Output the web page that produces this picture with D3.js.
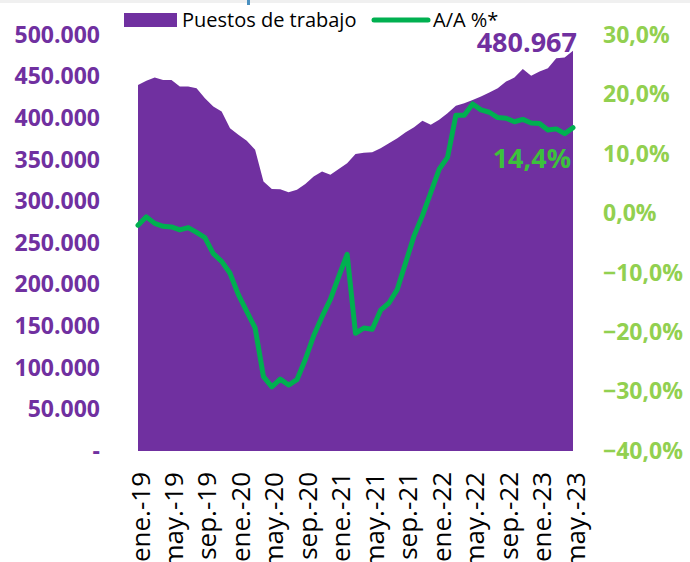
<!DOCTYPE html>
<html>
<head>
<meta charset="utf-8">
<script src="https://cdn.jsdelivr.net/npm/d3@7"></script>
<style>
  html, body { margin: 0; padding: 0; background: #fff; }
  svg { display: block; }
  text { font-family: "Open Sans", "Noto Sans", sans-serif; }
</style>
</head>
<body>
<svg id="chart" width="690" height="562"></svg>
<script>
// ---------- DATA ----------
const months = [
  "ene.-19","feb.-19","mar.-19","abr.-19","may.-19","jun.-19","jul.-19","ago.-19","sep.-19","oct.-19","nov.-19","dic.-19",
  "ene.-20","feb.-20","mar.-20","abr.-20","may.-20","jun.-20","jul.-20","ago.-20","sep.-20","oct.-20","nov.-20","dic.-20",
  "ene.-21","feb.-21","mar.-21","abr.-21","may.-21","jun.-21","jul.-21","ago.-21","sep.-21","oct.-21","nov.-21","dic.-21",
  "ene.-22","feb.-22","mar.-22","abr.-22","may.-22","jun.-22","jul.-22","ago.-22","sep.-22","oct.-22","nov.-22","dic.-22",
  "ene.-23","feb.-23","mar.-23","abr.-23","may.-23"
];
const tickMonths = ["ene.-19","may.-19","sep.-19","ene.-20","may.-20","sep.-20","ene.-21","may.-21","sep.-21","ene.-22","may.-22","sep.-22","ene.-23","may.-23"];

// Puestos de trabajo (left axis)
const puestos = [
  440000,445000,449000,446000,446000,438000,438000,436000,424000,414000,408000,388000,
  380000,373000,362000,324000,315000,314500,311000,314000,321000,330000,336000,332000,
  339000,346000,357000,358500,359000,364000,370000,376000,383000,389000,397000,392000,
  398000,406000,415000,418000,422000,426000,431000,436000,444000,449000,459000,451000,
  456000,460000,472000,473000,480967
];
// A/A %* (right axis, fraction)
const aa = [
  -0.020,-0.006,-0.017,-0.022,-0.023,-0.028,-0.024,-0.032,-0.041,-0.068,-0.081,-0.101,
  -0.137,-0.165,-0.193,-0.275,-0.292,-0.279,-0.289,-0.280,-0.246,-0.206,-0.174,-0.145,
  -0.106,-0.069,-0.202,-0.193,-0.195,-0.163,-0.151,-0.128,-0.083,-0.038,-0.004,0.035,
  0.074,0.094,0.165,0.165,0.184,0.174,0.170,0.161,0.160,0.154,0.158,0.152,
  0.151,0.140,0.142,0.134,0.144
];
const leftTicks = [0,50000,100000,150000,200000,250000,300000,350000,400000,450000,500000];
const rightTicks = [-0.4,-0.3,-0.2,-0.1,0,0.1,0.2,0.3];
const seriesNames = ["Puestos de trabajo","A/A %*"];
const lastLabel = "480.967";
const lastPctLabel = "14,4%";

// ---------- SETUP ----------
const purple = "#7030A0";
const green = "#00B050";
const lightGreen = "#92D050";

const svg = d3.select("#chart");
const x0 = 138, x1 = 573, yTop = 35, yBot = 451;

const x = d3.scalePoint().domain(months).range([x0, x1]);
const yL = d3.scaleLinear().domain([0, 500000]).range([yBot, yTop]);
const yR = d3.scaleLinear().domain([-0.4, 0.3]).range([yBot, yTop]);

const loc = d3.formatLocale({decimal: ",", thousands: ".", grouping: [3], currency: ["", ""]});
const fmtL = d => d === 0 ? "-" : loc.format(",.0f")(d);
const fmtR = loc.format(".1%");

// top grey band + small blue mark (cropped page remnants)
svg.append("rect").attr("x", 0).attr("y", 0).attr("width", 690).attr("height", 3).attr("fill", "#f0f0f0");
svg.append("rect").attr("x", 247).attr("y", 0).attr("width", 3).attr("height", 5).attr("fill", "#4a90c0");

// area
const area = d3.area()
  .x((d, i) => x(months[i]))
  .y0(yL(0))
  .y1(d => yL(d));
svg.append("path").datum(puestos).attr("d", area).attr("fill", purple);

// line
const line = d3.line()
  .x((d, i) => x(months[i]))
  .y(d => yR(d));
svg.append("path").datum(aa).attr("d", line)
  .attr("fill", "none").attr("stroke", green).attr("stroke-width", 5)
  .attr("stroke-linejoin", "round").attr("stroke-linecap", "round");

// left axis
const axL = svg.append("g").attr("transform", `translate(${x0},0)`)
  .call(d3.axisLeft(yL).tickValues(leftTicks).tickFormat(fmtL).tickSize(0).tickPadding(38));
axL.select(".domain").remove();
axL.selectAll("text").attr("fill", purple).attr("font-size", 23).attr("font-weight", "bold")
  .attr("font-family", "'Open Sans', sans-serif");

// right axis
const axR = svg.append("g").attr("transform", `translate(${x1},0)`)
  .call(d3.axisRight(yR).tickValues(rightTicks).tickFormat(fmtR).tickSize(0).tickPadding(30));
axR.select(".domain").remove();
axR.selectAll("text").attr("fill", lightGreen).attr("font-size", 23).attr("font-weight", "bold")
  .attr("font-family", "'Open Sans', sans-serif");

// bottom axis
const axB = svg.append("g").attr("transform", `translate(0,${yBot})`)
  .call(d3.axisBottom(x).tickValues(tickMonths).tickSize(0).tickPadding(0));
axB.select(".domain").remove();
axB.selectAll("text")
  .attr("fill", "#000").attr("font-size", 26)
  .attr("font-family", "'Open Sans', sans-serif")
  .attr("text-anchor", "end")
  .attr("dy", "0")
  .attr("transform", "translate(11,21) rotate(-90)")
  .attr("x", 0).attr("y", 0);

// data labels
svg.append("text").attr("x", 577).attr("y", 52).attr("text-anchor", "end")
  .attr("fill", purple).attr("font-size", 27).attr("font-weight", "bold").text(lastLabel);
svg.append("text").attr("x", 571).attr("y", 168).attr("text-anchor", "end")
  .attr("fill", "#3CC13C").attr("font-size", 27).attr("font-weight", "bold").text(lastPctLabel);

// legend
svg.append("rect").attr("x", 124).attr("y", 13).attr("width", 53).attr("height", 14).attr("fill", purple);
svg.append("text").attr("x", 182).attr("y", 27).attr("font-size", 20).attr("fill", "#000").text(seriesNames[0]);
svg.append("line").attr("x1", 374).attr("x2", 428).attr("y1", 20).attr("y2", 20)
  .attr("stroke", green).attr("stroke-width", 5).attr("stroke-linecap", "round");
svg.append("text").attr("x", 433).attr("y", 27).attr("font-size", 20).attr("fill", "#000").text(seriesNames[1]);
</script>
</body>
</html>
